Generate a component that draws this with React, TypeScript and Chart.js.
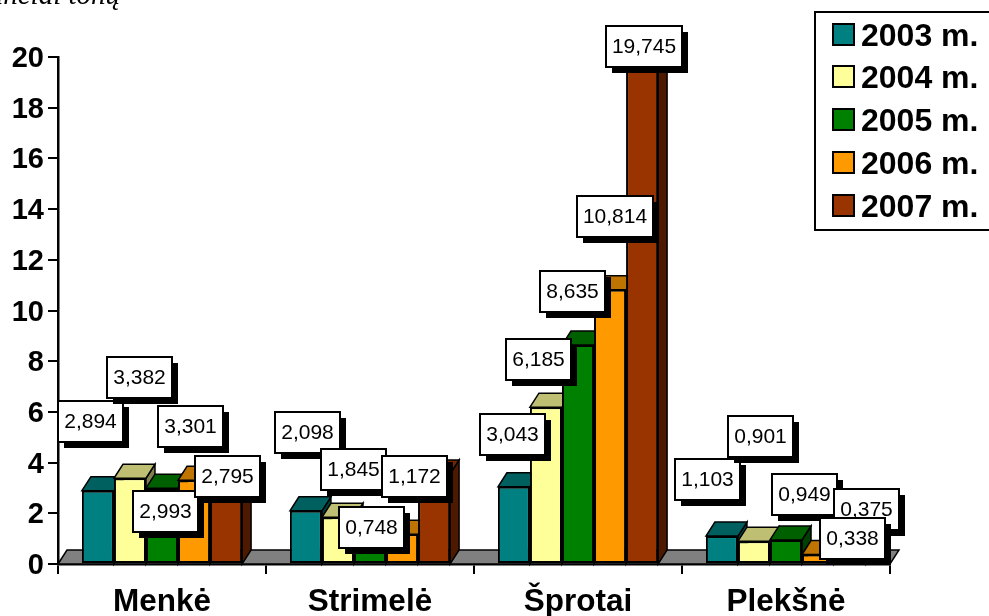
import React, { useEffect, useRef } from "react";
import { Chart, registerables } from "chart.js";

Chart.register(...registerables);

const categories = ["Menkė", "Strimelė", "Šprotai", "Plekšnė"];
const seriesNames = ["2003 m.", "2004 m.", "2005 m.", "2006 m.", "2007 m."];
const values2003 = [2.894, 2.098, 3.043, 1.103];
const values2004 = [3.382, 1.845, 6.185, 0.901];
const values2005 = [2.993, 0.748, 8.635, 0.949];
const values2006 = [3.301, 1.172, 10.814, 0.375];
const values2007 = [2.795, 3.55, 19.745, 0.338];

const frontColors = ["#008080", "#FFFF99", "#008000", "#FF9900", "#993300"];
const topColors = ["#006060", "#BFBF73", "#006000", "#BF7300", "#732600"];
const sideColors = ["#004040", "#80804D", "#004000", "#804D00", "#4D1A00"];

// Whether a value label is shown, and how far it was dragged from its bar top [dx, dy]
const labelOffsets: ([number, number] | null)[][] = [
  [[-7, -69], [1.5, -78], [-1, -52.4], [-14, -57]],
  [[9.5, -101], [15.5, -48], [-7, -48], [7, -105]],
  [[3.5, 23.5], [1.5, -17.5], [-6, -54], [18.5, -45]],
  [[-3.5, -54], [12.5, -58], [4.5, -73], [48, -45]],
  [[1.5, -17], null, [1.5, -17], [2, -17]],
];

const DEPTH_X = 9;
const DEPTH_Y = 14;
const SANS = '"Liberation Sans", Arial, sans-serif';

const poly = (ctx: CanvasRenderingContext2D, pts: number[][], fill: string) => {
  ctx.beginPath();
  pts.forEach(([x, y], i) => (i ? ctx.lineTo(x, y) : ctx.moveTo(x, y)));
  ctx.closePath();
  ctx.fillStyle = fill;
  ctx.fill();
  ctx.stroke();
};

const depthPlugin = {
  id: "depth",
  afterLayout(chart: any) {
    // the reference's value-axis labels sit about 2px lower than canvas "middle"
    chart.scales.y.getLabelItems().forEach((item: any) => {
      item.options.translation[1] += 2;
    });
  },
  beforeDatasetsDraw(chart: any) {
    const { ctx, chartArea } = chart;
    const b = chartArea.bottom;
    ctx.save();
    ctx.strokeStyle = "#000";
    ctx.lineWidth = 1.5;
    poly(ctx, [
      [chartArea.left, b],
      [chartArea.left + DEPTH_X, b - DEPTH_Y],
      [chartArea.right + DEPTH_X, b - DEPTH_Y],
      [chartArea.right, b],
    ], "#808080");
    categories.forEach((_, c) => {
      seriesNames.forEach((_n, s) => {
        const el = chart.getDatasetMeta(s).data[c];
        const l = el.x - el.width / 2;
        const r = el.x + el.width / 2;
        const t = el.y;
        poly(ctx, [[r, t], [r + DEPTH_X, t - DEPTH_Y], [r + DEPTH_X, b - DEPTH_Y], [r, b]], sideColors[s]);
        poly(ctx, [[l, t], [l + DEPTH_X, t - DEPTH_Y], [r + DEPTH_X, t - DEPTH_Y], [r, t]], topColors[s]);
      });
    });
    ctx.restore();
  },
};

const overlayPlugin = {
  id: "overlay",
  afterDraw(chart: any) {
    const { ctx } = chart;
    ctx.save();
    // value labels
    ctx.font = `21px ${SANS}`;
    ctx.textAlign = "center";
    ctx.textBaseline = "middle";
    categories.forEach((_, c) => {
      seriesNames.forEach((_n, s) => {
        const off = labelOffsets[s][c];
        if (!off) return;
        const el = chart.getDatasetMeta(s).data[c];
        const v = chart.data.datasets[s].data[c] as number;
        const text = v.toFixed(3).replace(".", ",");
        const w = Math.round(ctx.measureText(text).width) + 12;
        const h = 41;
        const cx = el.x + off[0];
        const cy = el.y + off[1];
        const x = Math.round(cx - w / 2);
        const y = Math.round(cy - h / 2);
        ctx.fillStyle = "#000";
        ctx.fillRect(x + 6, y + 6, w, h);
        ctx.fillStyle = "#fff";
        ctx.strokeStyle = "#000";
        ctx.lineWidth = 2;
        ctx.fillRect(x, y, w, h);
        ctx.strokeRect(x, y, w, h);
        ctx.fillStyle = "#000";
        ctx.fillText(text, x + w / 2, y + h / 2 + 1);
      });
    });
    // legend
    ctx.fillStyle = "#fff";
    ctx.strokeStyle = "#000";
    ctx.lineWidth = 2;
    ctx.fillRect(815, 12, 190, 218);
    ctx.strokeRect(815, 12, 190, 218);
    ctx.textAlign = "left";
    ctx.textBaseline = "alphabetic";
    ctx.font = `bold 32px ${SANS}`;
    chart.data.datasets.forEach((ds: any, i: number) => {
      const top = Math.round(23.5 + i * 42.75);
      ctx.fillStyle = ds.backgroundColor;
      ctx.fillRect(833, top, 21, 21);
      ctx.strokeRect(833, top, 21, 21);
      ctx.fillStyle = "#000";
      ctx.fillText(ds.label, 861, top + 22);
    });
    // cropped caption at the top of the page
    ctx.font = `italic 29px "Liberation Serif", serif`;
    ctx.textAlign = "right";
    ctx.fillText("Tūkstančiai tonų", 120, 4);
    ctx.restore();
  },
};

export default function App() {
  const ref = useRef<HTMLCanvasElement>(null);
  useEffect(() => {
    if (!ref.current) return;
    const series = [values2003, values2004, values2005, values2006, values2007];
    const chart = new Chart(ref.current, {
      type: "bar",
      data: {
        labels: categories,
        datasets: series.map((data, i) => ({
          label: seriesNames[i],
          data,
          backgroundColor: frontColors[i],
          borderColor: "#000",
          borderWidth: 2,
          borderSkipped: false,
          categoryPercentage: 0.77,
          barPercentage: 1,
        })),
      },
      options: {
        responsive: false,
        animation: false,
        layout: { padding: { top: 57, right: 99, left: 0, bottom: 0 } },
        plugins: { legend: { display: false }, title: { display: false }, tooltip: { enabled: false } },
        scales: {
          x: {
            afterFit: (s: any) => { s.height = 52; },
            border: { color: "#000", width: 2.5 },
            grid: { drawOnChartArea: false, color: "#000", lineWidth: 2, tickLength: 10, offset: true },
            ticks: { color: "#000", font: { family: SANS, size: 31.5, weight: "bold" }, padding: 9, maxRotation: 0 },
          },
          y: {
            min: 0,
            max: 20,
            afterFit: (s: any) => { s.width = 58; },
            border: { color: "#000", width: 2.5 },
            grid: { drawOnChartArea: false, color: "#000", lineWidth: 2, tickLength: 10 },
            ticks: { stepSize: 2, color: "#000", font: { family: SANS, size: 29, weight: "bold" }, padding: 4 },
          },
        },
      },
      plugins: [depthPlugin, overlayPlugin],
    } as any);
    return () => chart.destroy();
  }, []);
  return (
    <div style={{ position: "fixed", left: 0, top: 0, width: 989, height: 616, background: "#fff", overflow: "hidden" }}>
      <canvas ref={ref} width={989} height={616} style={{ display: "block" }} />
    </div>
  );
}
